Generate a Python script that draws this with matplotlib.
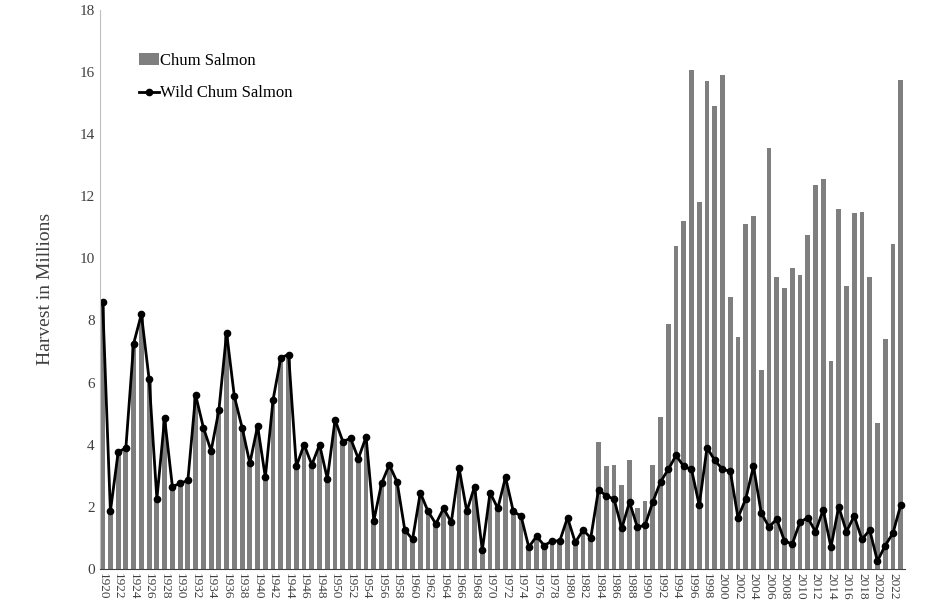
import matplotlib.pyplot as plt
import numpy as np

years = list(range(1920, 2024))

# wild chum harvest (millions)
wild = [8.6, 1.85, 3.75, 3.9, 7.25, 8.2, 6.1, 2.25, 4.85, 2.65,
        2.75, 2.85, 5.6, 4.55, 3.8, 5.1, 7.6, 5.55, 4.55, 3.4,
        4.6, 2.95, 5.45, 6.8, 6.9, 3.3, 4.0, 3.35, 4.0, 2.9,
        4.8, 4.1, 4.2, 3.55, 4.25, 1.55, 2.75, 3.35, 2.8, 1.25,
        0.95, 2.45, 1.85, 1.45, 1.95, 1.5, 3.25, 1.85, 2.65, 0.6,
        2.45, 1.95, 2.95, 1.85, 1.7, 0.7, 1.05, 0.75, 0.9, 0.9,
        1.65, 0.85, 1.25, 1.0, 2.55, 2.35, 2.25, 1.3, 2.15, 1.35,
        1.4, 2.15, 2.8, 3.2, 3.65, 3.3, 3.2, 2.05, 3.9, 3.5,
        3.2, 3.15, 1.65, 2.25, 3.3, 1.8, 1.35, 1.6, 0.9, 0.8,
        1.5, 1.65, 1.2, 1.9, 0.7, 2.0, 1.2, 1.7, 0.95, 1.25,
        0.25, 0.75, 1.15, 2.05]

# total chum harvest from 1984 on (before that total equals wild)
total_late = [4.1, 3.3, 3.35, 2.7, 3.5, 1.95, 2.2, 3.35, 4.9, 7.9,
              10.4, 11.2, 16.05, 11.8, 15.7, 14.9, 15.9, 8.75, 7.45, 11.1,
              11.35, 6.4, 13.55, 9.4, 9.05, 9.7, 9.45, 10.75, 12.35, 12.55,
              6.7, 11.6, 9.1, 11.45, 11.5, 9.4, 4.7, 7.4, 10.45, 15.75]
total = wild[:64] + total_late

plt.rcParams['font.family'] = ['Liberation Serif', 'DejaVu Serif']

fig, ax = plt.subplots(figsize=(9.48, 6.13), dpi=100)
fig.subplots_adjust(left=0.105, right=0.955, top=0.984, bottom=0.072)

bars = ax.bar(years, total, width=0.62, color='#7f7f7f', label='Chum Salmon')
line, = ax.plot(years, wild, color='black', lw=2, marker='o', ms=4.5, label='Wild Chum Salmon')

ax.set_xlim(1919.6, 2023.6)
ax.set_ylim(0, 18)
ax.set_yticks(range(0, 19, 2))
ax.set_xticks(years[::2])
ax.set_xticklabels([str(y) for y in years[::2]], rotation=-90, fontsize=9.5, color='#404040')
ax.tick_params(axis='y', labelsize=11, colors='#404040', length=0)
ax.tick_params(axis='x', length=0, pad=3)
ax.set_ylabel('Harvest in Millions', fontsize=14, color='#404040', labelpad=18)

for s in ['top', 'right']:
    ax.spines[s].set_visible(False)
ax.spines['left'].set_color('#bfbfbf')
ax.spines['bottom'].set_color('#404040')

ax.legend([bars, line], ['Chum Salmon', 'Wild Chum Salmon'], loc='upper left',
          bbox_to_anchor=(0.03, 0.95), frameon=False,
          fontsize=12, handlelength=1.2, handletextpad=0.1, labelspacing=1.0)

fig.savefig('out.png')
